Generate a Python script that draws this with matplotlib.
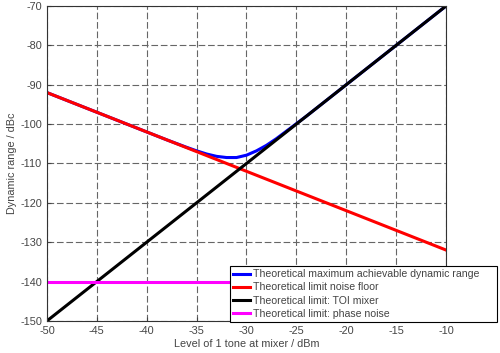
import matplotlib
matplotlib.use("Agg")
import matplotlib.pyplot as plt

# level of one tone at the mixer (dBm)
x_lim = [-50, -10]
# theoretical limit: noise floor (straight line, end points)
noise_x = [-50, -10]
noise_y = [-92, -132]
# theoretical limit: TOI mixer (straight line, end points)
toi_x = [-50, -10]
toi_y = [-150, -70]
# theoretical limit: phase noise
phase_x = [-50, -10]
phase_y = [-140, -140]
# theoretical maximum achievable dynamic range
dr_x = [-50, -45, -40, -38, -36, -35, -34, -33, -32, -31, -30, -29, -28, -27, -26, -25, -24, -20, -15, -10]
dr_y = [-92.0, -97.0, -102.0, -104.0, -105.9, -106.8, -107.6, -108.2, -108.5, -108.5, -107.9, -106.8,
        -105.4, -103.7, -101.8, -99.9, -98.0, -90.0, -80.0, -70.0]

labels = ["Theoretical maximum achievable dynamic range",
          "Theoretical limit noise floor",
          "Theoretical limit: TOI mixer",
          "Theoretical limit: phase noise"]

plt.rcParams["font.family"] = ["Liberation Sans", "DejaVu Sans"]
plt.rcParams["axes.unicode_minus"] = False

fig = plt.figure(figsize=(5.0, 3.53), dpi=100)
ax = fig.add_axes([0.094, 0.091, 0.798, 0.892])

lw = 2.2
l1, = ax.plot(dr_x, dr_y, color="#0000ff", lw=lw, label=labels[0])
l2, = ax.plot(noise_x, noise_y, color="#ff0000", lw=lw, label=labels[1])
l3, = ax.plot(toi_x, toi_y, color="black", lw=lw, label=labels[2])
l4, = ax.plot(phase_x, phase_y, color="#ff00ff", lw=lw, label=labels[3])

ax.set_xlim(x_lim)
ax.set_ylim(-150, -70)
ax.set_xticks(range(-50, -9, 5))
ax.set_yticks(range(-150, -69, 10))
ax.grid(True, color="#666666", linestyle=(0, (6, 2.5)), linewidth=0.8)
ax.tick_params(labelsize=7.8, colors="#444444", length=3, direction="in")
for s in ax.spines.values():
    s.set_color("#333333")
    s.set_linewidth(0.8)

ax.set_xlabel("Level of 1 tone at mixer / dBm", fontsize=7.8, color="#444444", labelpad=2)
ax.set_ylabel("Dynamic range / dBc", fontsize=7.8, color="#444444", labelpad=2)

leg = fig.legend(handles=[l1, l2, l3, l4], loc="lower left",
                 bbox_to_anchor=(0.46, 0.088, 0.534, 0.167), mode="expand",
                 fontsize=7.6, handlelength=1.6, handletextpad=0.3,
                 borderpad=0.3, labelspacing=0.3, borderaxespad=0,
                 fancybox=False, framealpha=1, edgecolor="black")
leg.get_frame().set_linewidth(0.8)
for t in leg.get_texts():
    t.set_color("#444444")

fig.savefig("out.png", dpi=100)
